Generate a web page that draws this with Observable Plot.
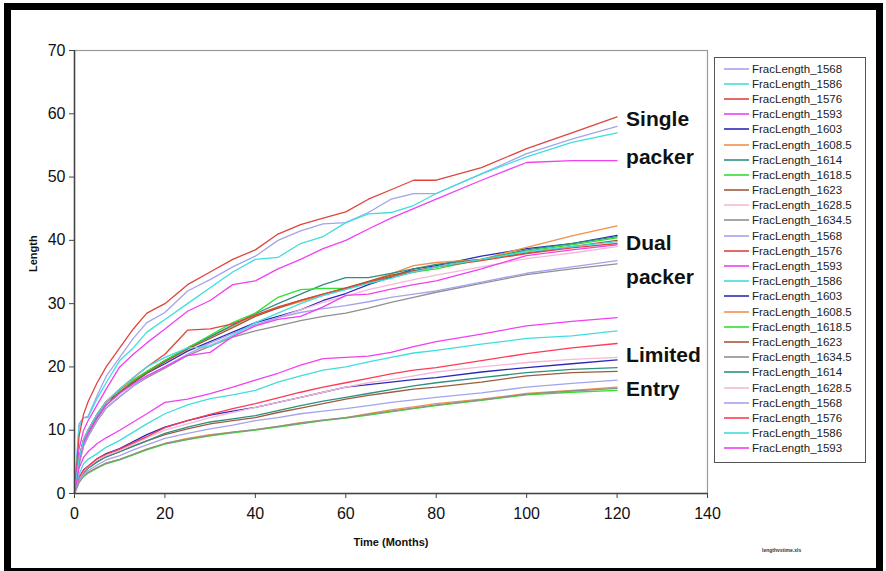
<!DOCTYPE html>
<html><head><meta charset="utf-8">
<script src="https://cdn.jsdelivr.net/npm/d3@7"></script>
<script src="https://cdn.jsdelivr.net/npm/@observablehq/plot@0.6"></script>
<style>
html,body{margin:0;padding:0;background:#fff;}
#wrap{position:relative;width:886px;height:571px;overflow:hidden;font-family:"Liberation Sans",Arial,sans-serif;}
#chart{position:absolute;left:0;top:0;}
#border{position:absolute;left:4px;top:3px;width:879px;height:572px;border:7px solid #000;box-sizing:border-box;pointer-events:none;}
#legend{position:absolute;left:714px;top:57px;width:152px;height:406px;border:1px solid #555;box-sizing:border-box;background:#fff;padding-top:3px;}
.row{height:15.2px;display:flex;align-items:center;font-size:11.5px;color:#222;white-space:nowrap;}
.row svg{margin-left:9px;margin-right:3px;flex:none;}
#foot{position:absolute;left:762px;top:547px;font-size:5px;font-weight:bold;color:#333;}
</style></head>
<body>
<div id="wrap"><div id="chart"></div><div id="legend"></div><div id="foot">lengthvstime.xls</div><div id="border"></div></div>
<script>
// Time axis (months) shared by every series
const months = [0,1,2,3,5,7,10,13,16,20,25,30,35,40,45,50,55,60,65,70,75,80,90,100,110,120];
const xTicks = [0,20,40,60,80,100,120,140];
const yTicks = [0,10,20,30,40,50,60,70];

// Single packer
const sp1568 = [0,11,12,12.2,15.5,18.5,21.5,24.5,27,28.6,32,33.8,35.8,37.5,40,41.5,42.6,42.8,44.4,46.5,47.4,47.4,50.5,53.7,56,58];
const sp1586 = [0,10.5,12,12,15,17.5,21,23,25.5,27.5,30,32.5,35,37,37.3,39.5,40.6,42.8,44.2,44.4,45.5,47.4,50.5,53.2,55.5,57];
const sp1576 = [0,9,12.5,14.5,17.5,20,23,26,28.5,30,33,35,37,38.5,41,42.5,43.5,44.5,46.5,48,49.5,49.5,51.5,54.5,57,59.5];
const sp1593 = [0,7,10,11.5,14,16.5,20,22,23.8,26,28.8,30.5,33,33.6,35.5,37,38.7,40,41.8,43.5,45,46.5,49.5,52.3,52.6,52.6];

// Dual packer
const dp1603   = [0,5.5,8.5,10,12.5,14.5,16,17.5,19,20.5,22.5,24,25.5,27,28,29,30.5,31.6,33,34.2,35.5,36,37.5,38.7,39.5,40.8];
const dp1608_5 = [0,5.5,8.5,10,12.5,14.5,16.3,18,19.3,21,23,24.8,26.5,28.2,29.3,30.3,31.3,32.3,33.5,34.7,36,36.5,37,38.9,40.7,42.3];
const dp1614   = [0,5,8,9.5,12,14,16,17.8,19.2,21,23,24.8,26.6,28.4,30,31.5,33,34.1,34.1,34.8,35.5,36.2,37,38.5,39.5,40.6];
const dp1618_5 = [0,5,8,9.5,12,14,16,17.8,19.3,21,23,25,27,28.5,31,32.2,32.4,32.4,33.3,34.3,35,35.5,37,38.3,39.3,40.4];
const dp1623   = [0,5,8,9.5,12,14,16,17.6,19,20.8,22.8,24.5,26.2,28,29.3,30.5,31.5,32.5,33.5,34.5,35.2,35.8,37,38,39,40];
const dp1628_5 = [0,5,7.5,9,11.5,13.5,15.3,17,18.4,20,22,23.5,25,26.5,27.8,29,30.2,31.2,32.2,33,33.8,34.5,35.8,37.1,38,39];
const dp1634_5 = [0,4.5,7.5,9,11.5,13.5,15.3,17,18.3,19.8,21.8,23.3,24.7,25.7,26.5,27.3,28,28.5,29.3,30.2,31,31.8,33.2,34.6,35.5,36.3];
const dp1568   = [0,5,7.5,9,11.5,13.5,15.3,17,18.5,20,22,23.8,25.3,26.7,27.8,28.6,29.2,29.7,30.3,31,31.5,32,33.4,34.8,35.8,36.8];
const dp1576   = [0,5.5,8.5,10,12.5,14.5,16.5,18.3,20,22,25.8,26,26.8,28.2,29.5,30.5,31.5,32.4,33.4,34.3,35,35.8,36.8,37.9,38.8,39.5];
const dp1593   = [0,5,8,9.5,12,14,15.8,17.3,18.6,20,21.8,22.3,24.8,26.5,27.5,28,29.5,31.3,31.5,32.3,33,33.6,35.5,37.6,38.5,39.3];
const dp1586   = [0,5.5,8.5,10,12.5,14.5,16.5,18.3,20,21.5,23,23.2,25,27,28.5,30,31.3,32.2,33.2,34,35,35.8,37,38.2,39,39.8];

// Limited entry
const le1603   = [0,2.5,3.7,4.3,5.5,6.3,7.1,8.2,9.3,10.5,11.5,12.4,13,13.6,14.4,15.2,16,16.8,17.2,17.6,18,18.3,19.2,19.9,20.5,21.1];
const le1608_5 = [0,1.8,2.8,3.3,4.1,4.8,5.4,6.2,7,7.9,8.7,9.3,9.7,10.1,10.6,11.2,11.6,12,12.6,13.2,13.7,14.2,14.9,15.8,16.3,16.8];
const le1618_5 = [0,1.7,2.7,3.2,4,4.7,5.3,6.1,6.9,7.8,8.5,9.1,9.6,10,10.5,11,11.5,11.9,12.4,12.9,13.4,13.9,14.7,15.6,16,16.3];
const le1623   = [0,2.2,3.3,4,5,5.8,6.6,7.5,8.3,9.3,10.2,11,11.5,12,12.8,13.5,14.2,14.9,15.5,16,16.5,16.8,17.6,18.6,19.1,19.3];
const le1634_5 = [0,1.8,2.8,3.3,4.1,4.8,5.4,6.2,7,7.9,8.6,9.2,9.7,10.1,10.6,11.1,11.6,12,12.5,13,13.5,14,14.8,15.7,16.2,16.6];
const le1614   = [0,2.2,3.3,4,5,5.8,6.6,7.5,8.3,9.5,10.5,11.3,11.8,12.3,13.1,13.9,14.6,15.2,15.8,16.4,17,17.5,18.3,19.1,19.6,19.9];
const le1628_5 = [0,2.3,3.5,4.2,5.3,6,6.8,7.8,8.8,10,11,12,12.8,13.6,14.4,15.2,16,16.8,17.5,18,18.6,19.2,20,20.7,21.2,21.5];
const le1568   = [0,2,3,3.6,4.5,5.3,6,6.9,7.7,8.7,9.5,10.2,10.8,11.5,12,12.6,13,13.4,13.9,14.4,14.8,15.2,15.9,16.8,17.4,17.9];
const le1576   = [0,2.5,3.7,4.3,5.5,6.2,7,8,9,10.4,11.5,12.5,13.4,14.2,15.1,16,16.8,17.5,18.2,18.9,19.5,19.9,21,22.1,23,23.7];
const le1586   = [0,3,4.7,5.4,6.3,7.3,8.4,9.7,11,12.6,14,15,15.6,16.3,17.6,18.6,19.5,20,20.8,21.5,22.2,22.6,23.6,24.5,24.9,25.7];
const le1593   = [0,4,5.7,6.6,7.9,8.8,10,11.3,12.6,14.4,14.9,15.8,16.8,17.9,19,20.3,21.3,21.5,21.7,22.3,23.2,24,25.2,26.5,27.2,27.8];

// Legend order, names and colours
const seriesNames = ["FracLength_1568","FracLength_1586","FracLength_1576","FracLength_1593",
  "FracLength_1603","FracLength_1608.5","FracLength_1614","FracLength_1618.5","FracLength_1623","FracLength_1628.5","FracLength_1634.5","FracLength_1568","FracLength_1576","FracLength_1593","FracLength_1586",
  "FracLength_1603","FracLength_1608.5","FracLength_1618.5","FracLength_1623","FracLength_1634.5","FracLength_1614","FracLength_1628.5","FracLength_1568","FracLength_1576","FracLength_1586","FracLength_1593"];
const seriesValues = [sp1568,sp1586,sp1576,sp1593,
  dp1603,dp1608_5,dp1614,dp1618_5,dp1623,dp1628_5,dp1634_5,dp1568,dp1576,dp1593,dp1586,
  le1603,le1608_5,le1618_5,le1623,le1634_5,le1614,le1628_5,le1568,le1576,le1586,le1593];
const seriesColors = ["#a3a3ee","#3fdede","#e0453c","#f040f0",
  "#2a2ab8","#f0904a","#2e9080","#30e030","#a05a3c","#f5b8d8","#909090","#a3a3ee","#e0453c","#f040f0","#3fdede",
  "#2a2ab8","#f0904a","#30e030","#a05a3c","#909090","#2e9080","#f5b8d8","#a3a3ee","#ff3a55","#3fdede","#f040f0"];

// Group labels
const labelText = ["Single","packer","Dual","packer","Limited","Entry"];
const labelY = [59.2,53.1,39.5,34.1,21.8,16.4];
const labelX = 122;

const rows = seriesValues.flatMap((vals, i) => vals.map((v, j) => ({id: i, month: months[j], value: v, color: seriesColors[i]})));
const labels = labelText.map((t, i) => ({t, x: labelX, y: labelY[i]}));

const chart = Plot.plot({
  width: 886, height: 571,
  marginLeft: 74, marginRight: 179, marginTop: 50, marginBottom: 78,
  style: {fontFamily: '"Liberation Sans", Arial, sans-serif', background: "transparent", overflow: "visible"},
  x: {domain: [0, 140]},
  y: {domain: [0, 70]},
  color: {type: "identity"},
  marks: [
    Plot.frame({stroke: "#9a9a9a", strokeWidth: 1.2}),
    Plot.line(rows, {x: "month", y: "value", z: "id", stroke: "color", strokeWidth: 1.3, curve: "linear"}),
    Plot.ruleX([0], {stroke: "#444", strokeWidth: 1.5}),
    Plot.ruleY([0], {stroke: "#444", strokeWidth: 1.5}),
    Plot.axisX(xTicks, {label: null, tickSize: 5, tickPadding: 9, fontSize: 16, stroke: "#444", color: "#111"}),
    Plot.axisY(yTicks, {label: null, tickSize: 5, tickPadding: 4, fontSize: 16, stroke: "#444", color: "#111"}),
    Plot.text(labels, {x: "x", y: "y", text: "t", textAnchor: "start", fontSize: 21, fontWeight: "bold", fill: "#111"}),
    Plot.text(["Time (Months)"], {frameAnchor: "bottom", dy: 52, fontSize: 11, fontWeight: "bold", fill: "#111"}),
    Plot.text(["Length"], {frameAnchor: "left", dx: -41, rotate: -90, fontSize: 11, fontWeight: "bold", fill: "#111"})
  ]
});
document.getElementById("chart").appendChild(chart);

// Legend built from the same series arrays
const leg = document.getElementById("legend");
seriesNames.forEach((name, i) => {
  const row = document.createElement("div");
  row.className = "row";
  row.innerHTML = `<svg width="25" height="4"><line x1="0" y1="2" x2="25" y2="2" stroke="${seriesColors[i]}" stroke-width="1.6"/></svg><span>${name}</span>`;
  leg.appendChild(row);
});
</script>
</body></html>
